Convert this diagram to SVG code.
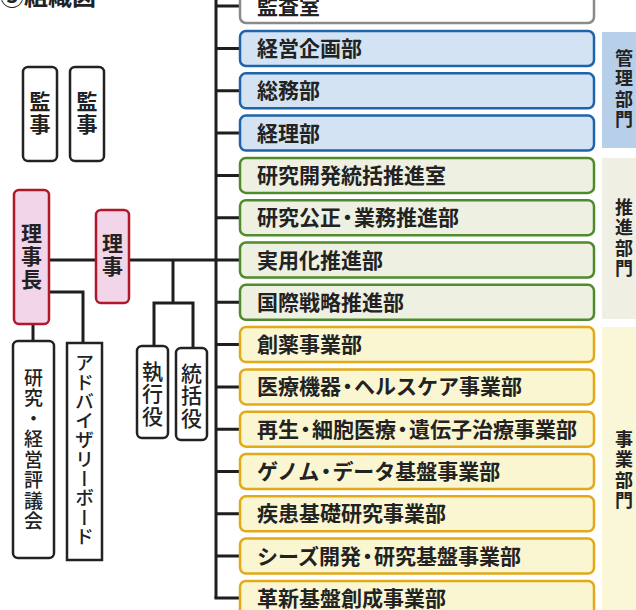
<svg xmlns="http://www.w3.org/2000/svg" width="636" height="610" viewBox="0 0 636 610">
<style>
text{font-family:"Noto Sans CJK JP","Noto Sans",sans-serif;fill:#222}
.box rect{stroke-width:2.5}
.gray rect{fill:#ffffff;stroke:#8a8a8a}
.blue rect{fill:#d3e3f3;stroke:#1f63a8}
.green rect{fill:#eef0e2;stroke:#4f8a2c}
.gold rect{fill:#faf6d2;stroke:#e2a919}
.box text{font-size:21px;font-weight:600}
.vt{writing-mode:vertical-rl;text-anchor:middle}
.lbox rect{fill:#fff;stroke:#222;stroke-width:2.5}
.pbox rect{fill:#f2d5e8;stroke:#b1172b;stroke-width:2.5}
.bold{font-weight:700;font-size:21px;letter-spacing:2px}
.med{font-weight:500;font-size:19px;letter-spacing:1.5px}
.band text{font-size:18px;font-weight:600;letter-spacing:2.5px}
.conn{fill:none;stroke:#1e1e1e;stroke-width:3}
</style>
<text x="0" y="5" style="font-size:24px;font-weight:700">③組織図</text>

<g id="band-kanri" class="band"><rect x="602" y="32" width="34" height="116" fill="#b8cfe9"/><text class="vt" x="624" y="90">管理部門</text></g>
<g id="band-suishin" class="band"><rect x="602" y="158" width="34" height="161" fill="#efefe4"/><text class="vt" x="624" y="239">推進部門</text></g>
<g id="band-jigyo" class="band"><rect x="602" y="327" width="34" height="283" fill="#f9f7d8"/><text class="vt" x="624" y="471">事業部門</text></g>

<g id="connectors" class="conn">
<path d="M216,0 V598"/>
<path d="M216,6 H240 M216,48.5 H240 M216,90.8 H240 M216,133.1 H240 M216,175.4 H240 M216,217.7 H240 M216,260 H240 M216,302.3 H240 M216,344.6 H240 M216,386.9 H240 M216,429.2 H240 M216,471.5 H240 M216,513.8 H240 M216,556.1 H240 M214.5,598 H240"/>
<path d="M49,260 H96 M129,260 H216"/>
<path d="M173,260 V303 M154,346 V303 H193 V348"/>
<path d="M49,292 H83 V343"/>
<path d="M33,324 V341"/>
</g>

<g id="kansashitsu" class="box gray" transform="translate(240,-11)"><rect width="354" height="34" rx="6"/><text x="17" y="25">監査室</text></g>
<g id="keiei-kikaku" class="box blue" transform="translate(240,31)"><rect width="354" height="35" rx="6"/><text x="17" y="25">経営企画部</text></g>
<g id="somu" class="box blue" transform="translate(240,73.3)"><rect width="354" height="35" rx="6"/><text x="17" y="25">総務部</text></g>
<g id="keiri" class="box blue" transform="translate(240,115.6)"><rect width="354" height="35" rx="6"/><text x="17" y="25">経理部</text></g>
<g id="kenkyu-kaihatsu" class="box green" transform="translate(240,157.9)"><rect width="354" height="35" rx="6"/><text x="17" y="25">研究開発統括推進室</text></g>
<g id="kenkyu-kosei" class="box green" transform="translate(240,200.2)"><rect width="354" height="35" rx="6"/><text x="17" y="25">研究公正<tspan dx="-4">・</tspan><tspan dx="-4">業務推進部</tspan></text></g>
<g id="jitsuyoka" class="box green" transform="translate(240,242.5)"><rect width="354" height="35" rx="6"/><text x="17" y="25">実用化推進部</text></g>
<g id="kokusai" class="box green" transform="translate(240,284.8)"><rect width="354" height="35" rx="6"/><text x="17" y="25">国際戦略推進部</text></g>
<g id="soyaku" class="box gold" transform="translate(240,327.1)"><rect width="354" height="35" rx="6"/><text x="17" y="25">創薬事業部</text></g>
<g id="iryo-kiki" class="box gold" transform="translate(240,369.4)"><rect width="354" height="35" rx="6"/><text x="17" y="25">医療機器<tspan dx="-4">・</tspan><tspan dx="-4">ヘルスケア事業部</tspan></text></g>
<g id="saisei" class="box gold" transform="translate(240,411.7)"><rect width="354" height="35" rx="6"/><text x="17" y="25">再生<tspan dx="-4">・</tspan><tspan dx="-4">細胞医療</tspan><tspan dx="-4">・</tspan><tspan dx="-4">遺伝子治療事業部</tspan></text></g>
<g id="genome" class="box gold" transform="translate(240,454)"><rect width="354" height="35" rx="6"/><text x="17" y="25">ゲノム<tspan dx="-4">・</tspan><tspan dx="-4">データ基盤事業部</tspan></text></g>
<g id="shikkan" class="box gold" transform="translate(240,496.3)"><rect width="354" height="35" rx="6"/><text x="17" y="25">疾患基礎研究事業部</text></g>
<g id="seeds" class="box gold" transform="translate(240,538.6)"><rect width="354" height="35" rx="6"/><text x="17" y="25">シーズ開発<tspan dx="-4">・</tspan><tspan dx="-4">研究基盤事業部</tspan></text></g>
<g id="kakushin" class="box gold" transform="translate(240,580.9)"><rect width="354" height="35" rx="6"/><text x="17" y="25">革新基盤創成事業部</text></g>

<g id="kanji1" class="lbox"><rect x="23" y="67" width="34" height="94" rx="5"/><text class="vt bold" x="40" y="114">監事</text></g>
<g id="kanji2" class="lbox"><rect x="70" y="67" width="34" height="94" rx="5"/><text class="vt bold" x="87" y="114">監事</text></g>
<g id="richocho" class="pbox"><rect x="14" y="190" width="35" height="134" rx="5"/><text class="vt bold" x="31.5" y="257">理事長</text></g>
<g id="riji" class="pbox"><rect x="96" y="210" width="33" height="93" rx="5"/><text class="vt bold" x="112.5" y="256">理事</text></g>
<g id="hyogikai" class="lbox"><rect x="13" y="341" width="41" height="217" rx="5"/><text class="vt med" x="33.5" y="450">研究・経営評議会</text></g>
<g id="advisory" class="lbox"><rect x="67" y="343" width="35" height="217"/><text class="vt med" x="84.5" y="450" style="letter-spacing:0.3px">アドバイザリーボード</text></g>
<g id="shikko" class="lbox"><rect x="137" y="346" width="31" height="92" rx="5"/><text class="vt med" x="152.5" y="394" style="font-size:21px">執行役</text></g>
<g id="tokatsu" class="lbox"><rect x="176" y="348" width="31" height="92" rx="5"/><text class="vt med" x="191.5" y="396" style="font-size:21px">統括役</text></g>
</svg>
